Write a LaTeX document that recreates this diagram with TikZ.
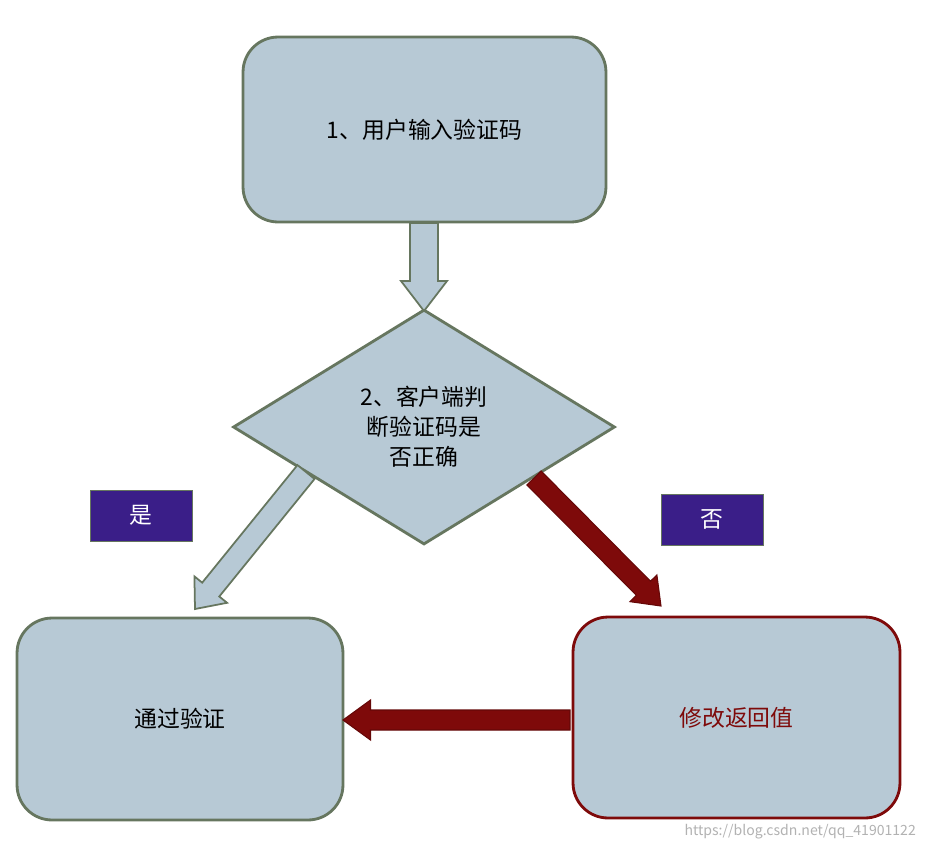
\documentclass[tikz,border=0pt]{standalone}
\usepackage{fontspec}
\setmainfont{Noto Sans CJK SC}
\usetikzlibrary{shapes.geometric,calc}
\definecolor{boxfill}{HTML}{B7C9D5}
\definecolor{boxline}{HTML}{66765F}
\definecolor{darkred}{HTML}{7E0A0A}
\definecolor{lblpurple}{HTML}{3A1E88}
\newcommand{\barrow}[6]{%
  \draw[#1] ($(#2)!#4!90:(#3)$) -- ($(#3)!#6!(#2)!#4!-90:(#2)$) -- ($(#3)!#6!(#2)!#5!-90:(#2)$) -- (#3)
   -- ($(#3)!#6!(#2)!#5!90:(#2)$) -- ($(#3)!#6!(#2)!#4!90:(#2)$) -- ($(#2)!#4!-90:(#3)$) -- cycle;}
\tikzset{
  box/.style={draw=boxline, line width=1.6pt, fill=boxfill, rounded corners=0.7cm, font=\fontsize{13}{17}\selectfont},
  lbl/.style={fill=lblpurple, draw=boxline, text=white, minimum width=2.04cm, minimum height=1.02cm, font=\fontsize{13}{17}\selectfont},
  bluearrow/.style={fill=boxfill, draw=boxline, line width=1pt},
  redarrow/.style={fill=darkred, draw=darkred!80!black, line width=0.6pt}
}
\begin{document}
\begin{tikzpicture}[x=0.02cm,y=-0.02cm]
\useasboundingbox[fill=white] (0,0) rectangle (927,850);
\node[box, minimum width=7.26cm, minimum height=3.7cm] (input) at (424.5,129.5) {1、用户输入验证码};
\node[box, diamond, rounded corners=0pt, minimum width=7.64cm, minimum height=4.7cm, inner sep=0pt, align=center] (check) at (424,427) {2、客户端判\\断验证码是\\否正确};
\node[box, minimum width=6.52cm, minimum height=4.04cm] (pass) at (180,719) {通过验证};
\node[box, draw=darkred, text=darkred, minimum width=6.54cm, minimum height=4.02cm] (modify) at (736.5,717.5) {修改返回值};
\node[lbl] (yes) at (141,515.5) {是};
\node[lbl] (no) at (712,519.5) {否};
\coordinate (a1s) at (424,223);
\coordinate (a1e) at (424,311);
\coordinate (a2s) at (306,472);
\coordinate (a2e) at (195,609);
\coordinate (a3s) at (534,478);
\coordinate (a3e) at (661,606);
\coordinate (a4s) at (570,720);
\coordinate (a4e) at (343,720);
\barrow{bluearrow}{a1s}{a1e}{0.28cm}{0.46cm}{0.6cm}
\barrow{bluearrow}{a2s}{a2e}{0.22cm}{0.42cm}{0.5cm}
\barrow{redarrow}{a3s}{a3e}{0.2cm}{0.38cm}{0.5cm}
\barrow{redarrow}{a4s}{a4e}{0.2cm}{0.4cm}{0.55cm}
\node[text=gray!60, font=\fontsize{8}{10}\selectfont, anchor=east] (wm) at (922,832) {https://blog.csdn.net/qq\_41901122};
\end{tikzpicture}
\end{document}
